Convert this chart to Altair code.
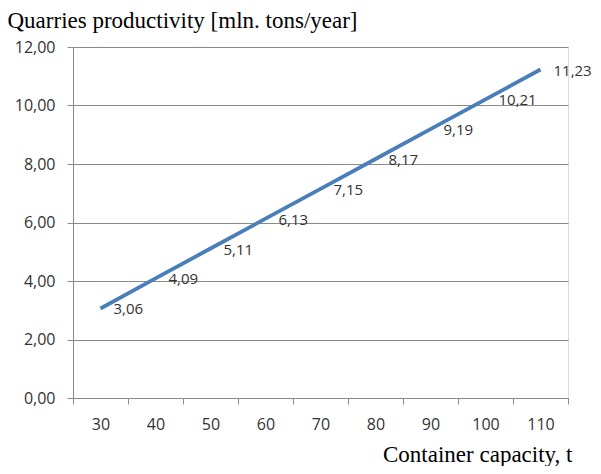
import altair as alt
import pandas as pd

capacity = [30, 40, 50, 60, 70, 80, 90, 100, 110]
productivity = [3.06, 4.09, 5.11, 6.13, 7.15, 8.17, 9.19, 10.21, 11.23]
y_ticks = [0, 2, 4, 6, 8, 10, 12]

df = pd.DataFrame({"capacity": capacity, "productivity": productivity})

GRID = "#8a8a8a"
LABEL = "#333333"

x_enc = alt.X(
    "capacity:O",
    bandPosition=0.5,
    scale=alt.Scale(type="band", paddingInner=0, paddingOuter=0),
    axis=alt.Axis(
        title="Container capacity, t",
        titleFont="Liberation Serif",
        titleFontSize=23,
        titleFontWeight="normal",
        titleColor="black",
        titleAlign="right",
        titleBaseline="alphabetic",
        titleX=499,
        titleY=63,
        labelAngle=0,
        labelFont="Open Sans",
        labelFontSize=16,
        labelColor=LABEL,
        labelPadding=12,
        tickBand="extent",
        tickSize=6,
        tickColor=GRID,
        domainColor=GRID,
        grid=False,
    ),
)

y_enc = alt.Y(
    "productivity:Q",
    scale=alt.Scale(domain=[0, 12], nice=False, zero=True),
    axis=alt.Axis(
        values=y_ticks,
        labelExpr="replace(format(datum.value, '.2f'), '.', ',')",
        title="Quarries productivity [mln. tons/year]",
        titleFont="Liberation Serif",
        titleFontSize=23,
        titleFontWeight="normal",
        titleColor="black",
        titleAngle=0,
        titleAlign="left",
        titleBaseline="alphabetic",
        titleX=-66,
        titleY=-20,
        labelFont="Open Sans",
        labelFontSize=16,
        labelColor=LABEL,
        labelPadding=12,
        tickSize=6,
        tickColor=GRID,
        domainColor=GRID,
        grid=True,
        gridColor=GRID,
        gridWidth=1,
    ),
)

base = alt.Chart(df).encode(x=x_enc, y=y_enc)

line = base.mark_line(color="#4a7ebb", strokeWidth=3.8)

labels = base.transform_calculate(
    lbl="replace(format(datum.productivity, '.2f'), '.', ',')"
).mark_text(
    align="left", baseline="middle", dx=13, dy=1,
    font="Open Sans", fontSize=15, color=LABEL
).encode(text="lbl:N")

chart = (
    alt.layer(line, labels)
    .properties(
        width=495,
        height=351,
        autosize=alt.AutoSizeParams(type="none"),
        padding={"left": 65, "top": 39, "right": 25, "bottom": 68},
    )
    .configure_view(stroke=None)
    .configure(background="white")
)

chart.save("out.html", embed_options={"renderer": "svg", "actions": False})
